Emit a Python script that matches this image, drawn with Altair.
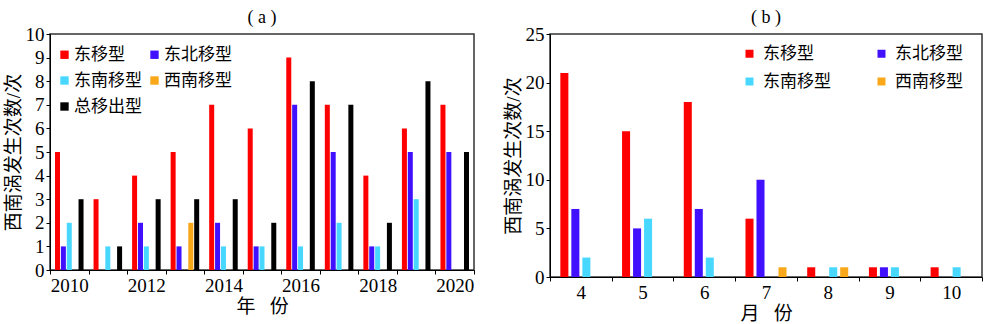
import altair as alt
import pandas as pd

# ---- panel (a): yearly counts ----
years = [2010, 2011, 2012, 2013, 2014, 2015, 2016, 2017, 2018, 2019, 2020]
a_east = [5, 3, 4, 5, 7, 6, 9, 7, 4, 6, 7]
a_northeast = [1, 0, 2, 1, 2, 1, 7, 5, 1, 5, 5]
a_southeast = [2, 1, 1, 0, 1, 1, 1, 2, 1, 3, 0]
a_southwest = [0, 0, 0, 2, 0, 0, 0, 0, 0, 0, 0]
a_total = [3, 1, 3, 3, 3, 2, 8, 7, 2, 8, 5]

# ---- panel (b): monthly counts ----
months = [4, 5, 6, 7, 8, 9, 10]
b_east = [21, 15, 18, 6, 1, 1, 1]
b_northeast = [7, 5, 7, 10, 0, 1, 0]
b_southeast = [2, 6, 2, 0, 1, 1, 1]
b_southwest = [0, 0, 0, 1, 1, 0, 0]

types_a = ["东移型", "东北移型", "东南移型", "西南移型", "总移出型"]
types_b = ["东移型", "东北移型", "东南移型", "西南移型"]
color_of = {"东移型": "#ff0000", "东北移型": "#4010ff", "东南移型": "#48d8ff",
            "西南移型": "#f8a818", "总移出型": "#000000"}

# legend fills column by column: order the colour domain so rows read as in the original
legend_a = ["东移型", "东南移型", "总移出型", "东北移型", "西南移型"]
legend_b = ["东移型", "东南移型", "东北移型", "西南移型"]

FONT = "'Liberation Serif', 'Times New Roman', 'Noto Sans CJK SC', serif"
NB = "\u00a0"

rows_a = []
for name, vals in zip(types_a, [a_east, a_northeast, a_southeast, a_southwest, a_total]):
    for yr, v in zip(years, vals):
        rows_a.append({"year": yr, "type": name, "count": v})
dfa = pd.DataFrame(rows_a)

rows_b = []
for name, vals in zip(types_b, [b_east, b_northeast, b_southeast, b_southwest]):
    for m, v in zip(months, vals):
        rows_b.append({"month": m, "type": name, "count": v})
dfb = pd.DataFrame(rows_b)

ytitle = "西南涡发生次数/次"

left = alt.Chart(dfa).mark_bar().encode(
    x=alt.X("year:O", scale=alt.Scale(paddingInner=0, paddingOuter=0),
            axis=alt.Axis(title="年" + NB * 3 + "份", labelAngle=0, tickBand="extent",
                          labelExpr="datum.value % 2 == 0 ? datum.label : ''")),
    xOffset=alt.XOffset("type:N", sort=types_a,
                        scale=alt.Scale(domain=types_a, paddingInner=0.15, paddingOuter=0.85)),
    y=alt.Y("count:Q", scale=alt.Scale(domain=[0, 10], nice=False),
            axis=alt.Axis(title=ytitle, values=list(range(11)))),
    color=alt.Color("type:N", scale=alt.Scale(domain=legend_a, range=[color_of[t] for t in legend_a]),
                    legend=alt.Legend(title=None, orient="none", legendX=6, legendY=12,
                                      columns=2, columnPadding=4, rowPadding=8,
                                      symbolType="square", symbolSize=70, symbolStrokeWidth=0,
                                      labelOffset=1, labelFontSize=17, labelFont=FONT,
                                      padding=0)),
).properties(width=424, height=236,
             title=alt.TitleParams("( a )", fontSize=18, font=FONT, fontWeight="normal", offset=-2))

right = alt.Chart(dfb).mark_bar().encode(
    x=alt.X("month:O", scale=alt.Scale(paddingInner=0, paddingOuter=0),
            axis=alt.Axis(title="月" + NB * 3 + "份", labelAngle=0, tickBand="extent")),
    xOffset=alt.XOffset("type:N", sort=types_b,
                        scale=alt.Scale(domain=types_b, paddingInner=0.27, paddingOuter=0.94)),
    y=alt.Y("count:Q", scale=alt.Scale(domain=[0, 25], nice=False),
            axis=alt.Axis(title=ytitle, values=[0, 5, 10, 15, 20, 25])),
    color=alt.Color("type:N", scale=alt.Scale(domain=legend_b, range=[color_of[t] for t in legend_b]),
                    legend=alt.Legend(title=None, orient="none", legendX=191, legendY=11,
                                      columns=2, columnPadding=42, rowPadding=10,
                                      symbolType="square", symbolSize=64, symbolStrokeWidth=0,
                                      labelOffset=5, labelFontSize=17, labelFont=FONT,
                                      padding=0)),
).properties(width=432, height=243,
             title=alt.TitleParams("( b )", fontSize=18, font=FONT, fontWeight="normal", offset=-2))

chart = alt.hconcat(left, right, spacing=27).resolve_scale(
    color="independent", xOffset="independent"
).resolve_legend(color="independent").properties(
    padding={"left": 3, "top": 8, "right": 5, "bottom": 2}
).configure_axis(
    labelFont=FONT, titleFont=FONT, labelFontSize=19, titleFontSize=19,
    titleFontWeight="normal", labelColor="black", titleColor="black",
    domainColor="black", tickColor="black", tickSize=4, labelPadding=2,
    titlePadding=2, grid=False,
).configure_view(stroke="#333333", strokeWidth=1.5).configure_title(anchor="middle")

chart.save("out.html", embed_options={"renderer": "svg", "actions": False})
